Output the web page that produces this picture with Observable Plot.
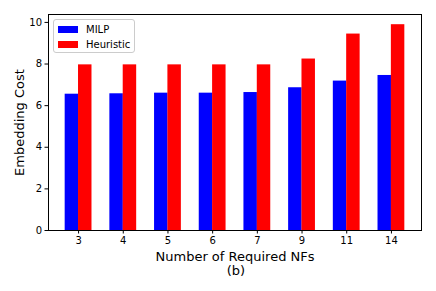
<!DOCTYPE html>
<html><head><meta charset="utf-8">
<script src="https://cdn.jsdelivr.net/npm/d3@7"></script>
<script src="https://cdn.jsdelivr.net/npm/@observablehq/plot@0.6"></script>
<style>
body{margin:0;background:#fff;font-family:"DejaVu Sans",sans-serif;}
#wrap{position:relative;width:436px;height:291px;}
#legend{position:absolute;left:53px;top:19px;width:80px;height:32px;border:1px solid #ccc;border-radius:3px;background:rgba(255,255,255,0.8);font-size:10px;color:#000;}
.item{position:absolute;left:4px;height:12px;display:flex;align-items:center;}
.sw{width:20px;height:7px;margin-right:8px;}
#cap{position:absolute;left:0;top:263px;width:472px;text-align:center;font-size:13px;}
</style></head>
<body><div id="wrap"><div id="chart"></div>
<div id="legend"></div>
<div id="cap">(b)</div></div>
<script>
const categories = ["3","4","5","6","7","9","11","14"];
const milp = [6.55, 6.57, 6.6, 6.6, 6.63, 6.86, 7.18, 7.45];
const heuristic = [7.96, 7.96, 7.96, 7.96, 7.96, 8.24, 9.44, 9.89];
const seriesNames = ["MILP", "Heuristic"];
const seriesColors = ["#0000ff", "#ff0000"];
const yTicks = [0, 2, 4, 6, 8, 10];
const xLabel = "Number of Required NFs";
const yLabel = "Embedding Cost";

const data = [];
categories.forEach((c, i) => {
  data.push({cat: c, series: "MILP", value: milp[i]});
  data.push({cat: c, series: "Heuristic", value: heuristic[i]});
});

const chart = Plot.plot({
  width: 436,
  height: 264,
  marginLeft: 48,
  marginRight: 15,
  marginTop: 14,
  marginBottom: 34,
  style: {fontFamily: "DejaVu Sans, sans-serif", fontSize: "10px", color: "#000", background: "#fff"},
  x: {domain: categories, paddingInner: 0.4, paddingOuter: 0.373, round: false},
  y: {domain: [0, 10.38]},
  color: {domain: seriesNames, range: seriesColors},
  marks: [
    Plot.barY(data.filter(d => d.series === "MILP"), {x: "cat", y: "value", fill: "series", insetLeft: 0, insetRight: 13.35}),
    Plot.barY(data.filter(d => d.series === "Heuristic"), {x: "cat", y: "value", fill: "series", insetLeft: 13.35, insetRight: 0}),
    Plot.axisX({tickSize: 3.5, tickPadding: 3, label: xLabel, labelAnchor: "center", labelOffset: 30, fontSize: 10}),
    Plot.axisY({ticks: yTicks, tickSize: 3.5, tickPadding: 3, label: yLabel, labelAnchor: "center", labelOffset: 34, fontSize: 10}),
    Plot.frame({stroke: "#000", strokeWidth: 1})
  ]
});
chart.querySelectorAll("text").forEach(t => {
  const s = t.textContent;
  if (s.includes(xLabel) || s.includes(yLabel)) {
    t.textContent = s.replace(/[↑→↓←]/g, "").trim();
    t.setAttribute("font-size", "13");
    t.style.fontSize = "13px";
  }
});
document.getElementById("chart").appendChild(chart);

const leg = document.getElementById("legend");
seriesNames.forEach((s, i) => {
  const it = document.createElement("div");
  it.className = "item";
  it.style.top = (3 + i * 15) + "px";
  it.innerHTML = `<span class="sw" style="background:${seriesColors[i]}"></span><span>${s}</span>`;
  leg.appendChild(it);
});
</script></body></html>
